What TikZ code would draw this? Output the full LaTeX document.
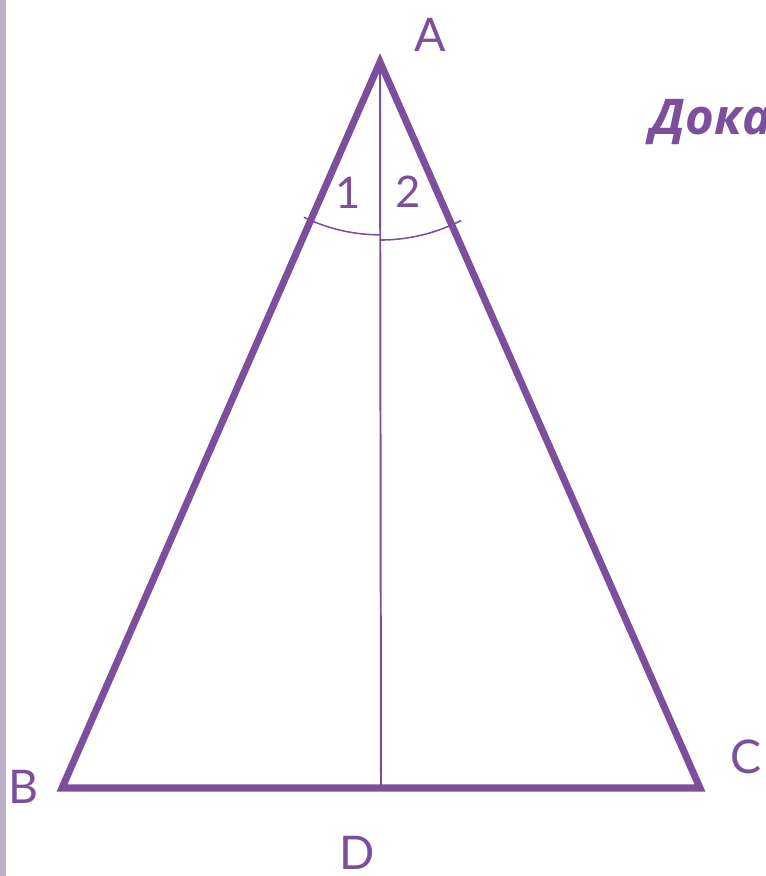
\documentclass[tikz,border=0pt]{standalone}
\usepackage{fontspec}
\setmainfont{Lato}
\newfontfamily\taskfont{Open Sans}
\usepackage{tikz}
\usetikzlibrary{calc}
\definecolor{violet}{HTML}{7D4E9B}
\definecolor{edgestrip}{HTML}{B8AEC8}
\tikzset{
    every picture/.style={line cap=round,line join=round},
    triside/.style={draw=violet,line width=5pt,line join=miter},
    median/.style={draw=violet,line width=1.4pt},
    anglearc/.style={draw=violet,line width=1.1pt},
    vertexlabel/.style={text=violet,font=\fontsize{33}{36}\selectfont,inner sep=0pt},
    anglelabel/.style={text=violet,font=\fontsize{31}{34}\selectfont,inner sep=0pt},
    tasktext/.style={text=violet,font=\taskfont\fontsize{35}{40}\selectfont\bfseries\itshape,inner sep=0pt}
}

\begin{document}
\begin{tikzpicture}[x=0.025cm,y=0.025cm]
  \useasboundingbox (0,0) rectangle (765,876);
  \clip (0,0) rectangle (765,876);
  \fill[edgestrip] (0,0) rectangle (6,876);

  \coordinate (A) at (380,814);
  \coordinate (B) at (62,88);
  \coordinate (C) at (700,88);
  \coordinate (D) at ($(B)!0.5!(C)$);

  \draw[triside] (A) -- (B) -- (C) -- cycle;
  \draw[median] (A) -- (D);

  % the two marked angles at A
  \draw[anglearc] ($(A)+(244:4.32cm)$) arc[start angle=244,end angle=270,radius=4.32cm];
  \draw[anglearc] ($(A)+(270:4.45cm)$) arc[start angle=270,end angle=297,radius=4.45cm];

  \node[anglelabel] (one) at (348,683) {1};
  \node[anglelabel] (two) at (408,684) {2};

  \node[vertexlabel] (lA) at (430,841) {A};
  \node[vertexlabel] (lB) at (23,89) {B};
  \node[vertexlabel] (lC) at (746,119) {C};
  \node[vertexlabel] (lD) at (357,23) {D};

  \node[tasktext,anchor=base west] (task) at (650,741) {Доказать};
\end{tikzpicture}
\end{document}
